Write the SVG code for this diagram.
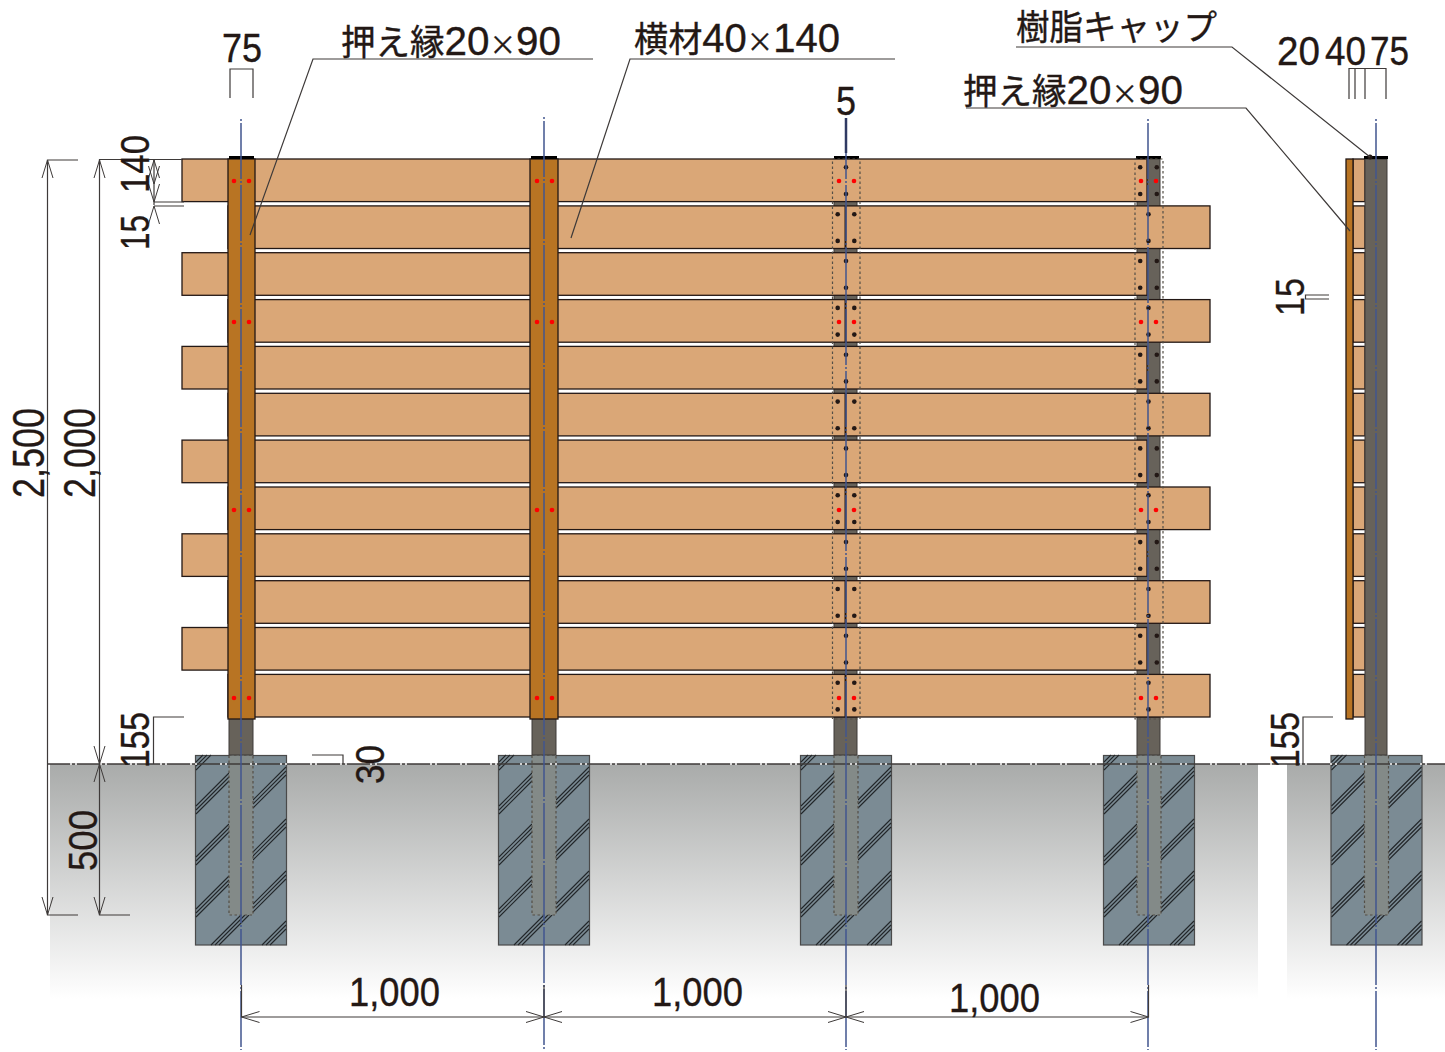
<svg xmlns="http://www.w3.org/2000/svg" xmlns:xlink="http://www.w3.org/1999/xlink" width="1445" height="1052" viewBox="0 0 1445 1052">
<style>
.d{font-family:"Liberation Sans",Arial,sans-serif;font-size:41px;fill:#231815;stroke:#231815;stroke-width:.35}
.j{font-family:"Noto Sans CJK JP","Liberation Sans",sans-serif;font-size:35px;fill:#231815;stroke:#231815;stroke-width:.35}
.n{font-family:"Liberation Sans",Arial,sans-serif;font-size:41px}
.x{font-size:27px}
.b{fill:#daa777;stroke:#231815;stroke-width:1.3}
.ln{fill:none;stroke:#3e3a39;stroke-width:1.2}
.ar{fill:none;stroke:#3e3a39;stroke-width:1}
.gy{fill:#67625a;stroke:#3e3a39;stroke-width:1}
.or{fill:#b87423;stroke:#231815;stroke-width:1.3}
.cap{fill:#000}
.cl{fill:none;stroke:#41568f;stroke-width:1.5;stroke-dasharray:56 2 2 2;stroke-dashoffset:-5}
.dot{fill:none;stroke:#544f47;stroke-width:1.2;stroke-dasharray:2.5 2.5}
.r{fill:#f00}
.k{fill:#231815}
.hat{fill:none;stroke:#23272a;stroke-width:1.1}
</style>
<defs>
<linearGradient id="gr" x1="0" y1="0" x2="0" y2="1"><stop offset="0" stop-color="#a9abaa"/><stop offset="1" stop-color="#fff"/></linearGradient>
<g id="h3"><path class="hat" d="M0,0L33,-33M0,4L33,-29M0,8L33,-25"/></g>
<g id="foot">
<rect x="195.500" y="755.500" width="91" height="189.500" fill="#7b8b94" stroke="#4a4a4a" stroke-width="1.200"/>
<use xlink:href="#h3" x="196" y="806"/><use xlink:href="#h3" x="196" y="857"/><use xlink:href="#h3" x="196" y="909"/>
<use xlink:href="#h3" x="253" y="800"/><use xlink:href="#h3" x="253" y="852"/><use xlink:href="#h3" x="253" y="904"/>
<path class="hat" d="M196,762L203,755M196,766L207,755M196,770L211,755M211,945L241,915M215,945L245,915M219,945L249,915M262,945L286,921M266,945L286,925M270,945L286,929"/>
<rect x="229" y="755" width="24" height="160" fill="#838a88"/>
<rect class="dot" x="229" y="755" width="24" height="160"/>
</g>
<g id="pc"><circle class="k" cy="8.300" r="2.300"/><circle class="k" cy="35" r="2.300"/></g>
<g id="ps"><use xlink:href="#pc" x="-8.300"/><use xlink:href="#pc" x="8.300"/></g>
<g id="rd"><circle class="r" cx="-7.500" r="2.300"/><circle class="r" cx="7.500" r="2.300"/></g>
<path id="au" class="ar" d="M-5.500,18L0,0L5.500,18"/>
<path id="ad" class="ar" d="M-5.500,-18L0,0L5.500,-18"/>
<path id="al" class="ar" d="M18,-5.500L0,0L18,5.500"/>
<path id="arr" class="ar" d="M-18,-5.500L0,0L-18,5.500"/>
</defs>

<g id="ground">
<rect x="50" y="764" width="1208" height="235" fill="url(#gr)"/>
<rect x="1287" y="764" width="158" height="235" fill="url(#gr)"/>
</g>

<g id="footings">
<use id="footing-1" xlink:href="#foot"/>
<use id="footing-2" xlink:href="#foot" x="303"/>
<use id="footing-3" xlink:href="#foot" x="605"/>
<use id="footing-4" xlink:href="#foot" x="908"/>
<use id="footing-5" xlink:href="#foot" x="1135.500"/>
</g>

<g id="post-bases">
<rect class="gy" x="229" y="717" width="24" height="38"/>
<rect class="gy" x="532" y="717" width="24" height="38"/>
<rect class="gy" x="834" y="717" width="23" height="38"/>
<rect class="gy" x="1137" y="717" width="23" height="38"/>
</g>

<g id="post-3-back"><rect class="gy" x="834" y="159" width="23" height="558"/></g>
<g id="post-4-back"><rect class="gy" x="1137" y="159" width="23" height="558"/></g>

<g id="boards">
<rect class="b" x="182" y="159" width="965" height="42.600"/>
<rect class="b" x="228" y="205.900" width="982" height="42.600"/>
<rect class="b" x="182" y="252.700" width="965" height="42.600"/>
<rect class="b" x="228" y="299.600" width="982" height="42.600"/>
<rect class="b" x="182" y="346.400" width="965" height="42.600"/>
<rect class="b" x="228" y="393.300" width="982" height="42.600"/>
<rect class="b" x="182" y="440.100" width="965" height="42.600"/>
<rect class="b" x="228" y="487" width="982" height="42.600"/>
<rect class="b" x="182" y="533.800" width="965" height="42.600"/>
<rect class="b" x="228" y="580.700" width="982" height="42.600"/>
<rect class="b" x="182" y="627.500" width="965" height="42.600"/>
<rect class="b" x="228" y="674.400" width="982" height="42.600"/>
</g>

<g id="post-1">
<rect class="or" x="228" y="159" width="27" height="560"/>
<rect class="cap" x="229" y="156" width="25" height="3"/>
<use xlink:href="#rd" x="241.500" y="181"/><use xlink:href="#rd" x="241.500" y="322"/><use xlink:href="#rd" x="241.500" y="510"/><use xlink:href="#rd" x="241.500" y="698"/>
</g>
<g id="post-2">
<rect class="or" x="530" y="159" width="28" height="560"/>
<rect class="cap" x="531" y="156" width="26" height="3"/>
<use xlink:href="#rd" x="544.500" y="181"/><use xlink:href="#rd" x="544.500" y="322"/><use xlink:href="#rd" x="544.500" y="510"/><use xlink:href="#rd" x="544.500" y="698"/>
</g>
<g id="post-3">
<rect class="cap" x="834" y="156" width="25" height="3"/>
<rect class="dot" x="832.500" y="159" width="27.500" height="560"/>
<path fill="none" stroke="#231815" stroke-width="2" d="M845.500,205.900V248.500M845.500,299.600V342.200M845.500,393.300V435.900M845.500,487V529.600M845.500,580.700V623.300M845.500,674.400V717"/>
<use xlink:href="#pc" x="846" y="159"/><use xlink:href="#ps" x="846" y="205.900"/><use xlink:href="#pc" x="846" y="252.700"/><use xlink:href="#ps" x="846" y="299.600"/><use xlink:href="#pc" x="846" y="346.400"/><use xlink:href="#ps" x="846" y="393.300"/><use xlink:href="#pc" x="846" y="440.100"/><use xlink:href="#ps" x="846" y="487"/><use xlink:href="#pc" x="846" y="533.800"/><use xlink:href="#ps" x="846" y="580.700"/><use xlink:href="#pc" x="846" y="627.500"/><use xlink:href="#ps" x="846" y="674.400"/>
<use xlink:href="#rd" x="846.500" y="181"/><use xlink:href="#rd" x="846.500" y="322"/><use xlink:href="#rd" x="846.500" y="510"/><use xlink:href="#rd" x="846.500" y="698"/>
</g>
<g id="post-4">
<rect class="cap" x="1136" y="156" width="25" height="3"/>
<rect class="dot" x="1135" y="159" width="28" height="560"/>
<use xlink:href="#ps" x="1148.500" y="159"/><use xlink:href="#pc" x="1148.500" y="205.900"/><use xlink:href="#ps" x="1148.500" y="252.700"/><use xlink:href="#pc" x="1148.500" y="299.600"/><use xlink:href="#ps" x="1148.500" y="346.400"/><use xlink:href="#pc" x="1148.500" y="393.300"/><use xlink:href="#ps" x="1148.500" y="440.100"/><use xlink:href="#pc" x="1148.500" y="487"/><use xlink:href="#ps" x="1148.500" y="533.800"/><use xlink:href="#pc" x="1148.500" y="580.700"/><use xlink:href="#ps" x="1148.500" y="627.500"/><use xlink:href="#pc" x="1148.500" y="674.400"/>
<use xlink:href="#rd" x="1148.500" y="181"/><use xlink:href="#rd" x="1148.500" y="322"/><use xlink:href="#rd" x="1148.500" y="510"/><use xlink:href="#rd" x="1148.500" y="698"/>
</g>

<g id="side-view">
<rect class="b" x="1353" y="159" width="12" height="42.600"/>
<rect class="b" x="1353" y="205.900" width="12" height="42.600"/>
<rect class="b" x="1353" y="252.700" width="12" height="42.600"/>
<rect class="b" x="1353" y="299.600" width="12" height="42.600"/>
<rect class="b" x="1353" y="346.400" width="12" height="42.600"/>
<rect class="b" x="1353" y="393.300" width="12" height="42.600"/>
<rect class="b" x="1353" y="440.100" width="12" height="42.600"/>
<rect class="b" x="1353" y="487" width="12" height="42.600"/>
<rect class="b" x="1353" y="533.800" width="12" height="42.600"/>
<rect class="b" x="1353" y="580.700" width="12" height="42.600"/>
<rect class="b" x="1353" y="627.500" width="12" height="42.600"/>
<rect class="b" x="1353" y="674.400" width="12" height="42.600"/>
<rect class="or" x="1346" y="159" width="7" height="560"/>
<rect class="gy" x="1365" y="159" width="22" height="596"/>
<rect class="cap" x="1364" y="156" width="24" height="3"/>
<circle class="k" cx="1370" cy="157" r="2.500"/>
</g>

<g id="connectors">
<path fill="none" stroke="#3e3a39" stroke-width="1.300" d="M47,764H1445"/>
<path fill="none" stroke="#fff" stroke-width="1.500" stroke-dasharray="2 3 2 23" d="M70,764H1445"/>
<path class="cl" d="M241,118V1050"/>
<path class="cl" d="M544,116V1050"/>
<path class="cl" d="M846,118V1050"/>
<path class="cl" d="M1148,118V1050"/>
<path class="cl" d="M1376,118V1050"/>
<path fill="none" stroke="#2f3a63" stroke-width="2.500" d="M846,118V153"/>
<path class="ln" d="M593,59H313L250,235"/>
<path class="ln" d="M895,59H630L571,238"/>
<path class="ln" d="M1016,47H1232L1370,157"/>
<path class="ln" d="M966,108H1246L1350,231"/>
<path class="ln" d="M230,98V69H253V98"/>
<path class="ln" d="M1349,99V68.500H1386V99M1355,68.500V99M1365,68.500V99"/>
<path class="ln" d="M1329,295H1305.500V299H1329"/>
<path class="ln" d="M184,717H153.500V764"/>
<path class="ln" d="M1333,717H1303V764"/>
<path class="ln" d="M312,755H343V764"/>
<path class="ln" d="M78,160H47.500V915H78"/>
<path class="ln" d="M182,159.500H99.500V915H130"/>
<path class="ln" d="M154,160V205M154,202H184M154,206H184"/>
<use xlink:href="#au" x="47.500" y="160"/><use xlink:href="#ad" x="47.500" y="915"/>
<use xlink:href="#au" x="99.500" y="160"/><use xlink:href="#ad" x="99.500" y="764"/><use xlink:href="#au" x="99.500" y="764"/><use xlink:href="#ad" x="99.500" y="915"/>
<use xlink:href="#au" x="154" y="160"/><use xlink:href="#ad" x="154" y="202"/><use xlink:href="#au" x="154" y="206"/><use xlink:href="#ad" x="154" y="184"/>
<path class="ln" d="M241.500,985V1017H1148.500V985M544,985V1017M846,985V1017"/>
<use xlink:href="#al" x="241.500" y="1017"/><use xlink:href="#arr" x="544" y="1017"/><use xlink:href="#al" x="544" y="1017"/><use xlink:href="#arr" x="846" y="1017"/><use xlink:href="#al" x="846" y="1017"/><use xlink:href="#arr" x="1148.500" y="1017"/>
</g>

<g id="labels">
<text class="d" x="222" y="62" textLength="40" lengthAdjust="spacingAndGlyphs">75</text>
<text class="d" x="836" y="115" textLength="20" lengthAdjust="spacingAndGlyphs">5</text>
<text class="d" x="1277" y="65" textLength="43" lengthAdjust="spacingAndGlyphs">20</text>
<text class="d" x="1325" y="65" textLength="41" lengthAdjust="spacingAndGlyphs">40</text>
<text class="d" x="1370" y="65" textLength="39" lengthAdjust="spacingAndGlyphs">75</text>
<text class="j" x="341" y="55" textLength="220" lengthAdjust="spacingAndGlyphs">押え縁<tspan class="n">20</tspan><tspan class="x">×</tspan><tspan class="n">90</tspan></text>
<text class="j" x="634" y="52" textLength="206" lengthAdjust="spacingAndGlyphs">横材<tspan class="n">40</tspan><tspan class="x">×</tspan><tspan class="n">140</tspan></text>
<text class="j" x="1016" y="40" textLength="201" lengthAdjust="spacingAndGlyphs">樹脂キャップ</text>
<text class="j" x="963" y="104" textLength="220" lengthAdjust="spacingAndGlyphs">押え縁<tspan class="n">20</tspan><tspan class="x">×</tspan><tspan class="n">90</tspan></text>
<text class="d" style="font-size:44px" transform="translate(44,498) rotate(-90)" textLength="90" lengthAdjust="spacingAndGlyphs">2,500</text>
<text class="d" style="font-size:44px" transform="translate(95,498) rotate(-90)" textLength="90" lengthAdjust="spacingAndGlyphs">2,000</text>
<text class="d" transform="translate(149,193) rotate(-90)" textLength="58" lengthAdjust="spacingAndGlyphs">140</text>
<text class="d" transform="translate(149,250) rotate(-90)" textLength="35" lengthAdjust="spacingAndGlyphs">15</text>
<text class="d" transform="translate(149,768) rotate(-90)" textLength="56" lengthAdjust="spacingAndGlyphs">155</text>
<text class="d" transform="translate(97,871) rotate(-90)" textLength="61" lengthAdjust="spacingAndGlyphs">500</text>
<text class="d" transform="translate(384,784) rotate(-90)" textLength="39" lengthAdjust="spacingAndGlyphs">30</text>
<text class="d" transform="translate(1304,316) rotate(-90)" textLength="38" lengthAdjust="spacingAndGlyphs">15</text>
<text class="d" transform="translate(1299,768) rotate(-90)" textLength="56" lengthAdjust="spacingAndGlyphs">155</text>
<text class="d" x="349" y="1006" textLength="91" lengthAdjust="spacingAndGlyphs">1,000</text>
<text class="d" x="652" y="1006" textLength="91" lengthAdjust="spacingAndGlyphs">1,000</text>
<text class="d" x="949" y="1012" textLength="91" lengthAdjust="spacingAndGlyphs">1,000</text>
</g>
</svg>
